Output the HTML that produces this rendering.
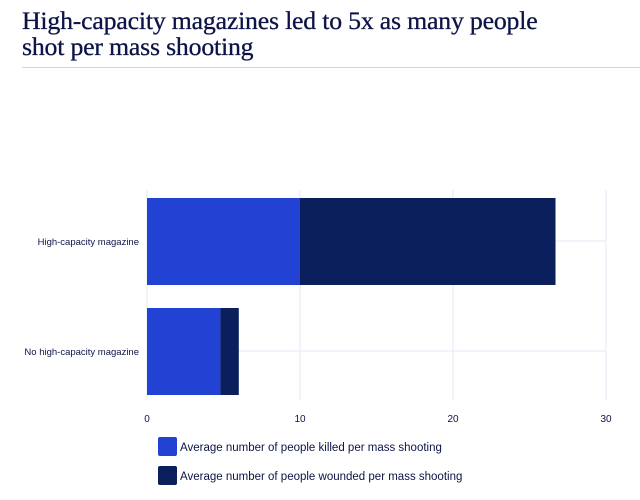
<!DOCTYPE html>
<html><head><meta charset="utf-8"><style>
body{margin:0;width:640px;height:500px;background:#fff;overflow:hidden;font-family:"Liberation Sans",sans-serif}
#title{position:absolute;left:22px;top:8px;margin:0;font-family:"Liberation Serif",serif;font-weight:normal;font-size:25.8px;line-height:26px;color:#0c1447;letter-spacing:-0.2px;-webkit-text-stroke:0.3px #0c1447}
#rule{position:absolute;left:22px;top:67px;width:618px;height:1px;background:#c9d6ee}
</style></head><body>
<h1 id="title">High-capacity magazines led to 5x as many people<br>shot per mass shooting</h1>
<div id="rule"></div>
<svg id="chart" width="640" height="500" style="position:absolute;left:0;top:0"></svg>
<script>
const categories=["High-capacity magazine","No high-capacity magazine"];
const killed=[10,4.8];
const wounded=[16.7,1.2];
const ticks=[0,10,20,30];
const seriesNames=["Average number of people killed per mass shooting","Average number of people wounded per mass shooting"];
const colors=["#2142d3","#0b1f5c"];
const svg=document.getElementById('chart');
const NS="http://www.w3.org/2000/svg";
const x=v=>147+v*15.3;
const yc=i=>241+i*110;
function mk(t,a){const e=document.createElementNS(NS,t);for(const k in a)e.setAttribute(k,a[k]);svg.appendChild(e);return e;}
ticks.forEach(t=>{
 const l=mk('line',{x1:x(t),x2:x(t),y1:190,y2:400,stroke:'#e6e9f7','stroke-width':1});
 
 
 const tx=mk('text',{x:x(t),y:422,'text-anchor':'middle','font-size':10,fill:'#0c1447','font-family':'Liberation Sans, sans-serif'});
 tx.textContent=t;
 
 
});
categories.forEach((c,i)=>{
 const g=mk('line',{x1:147,x2:x(30),y1:yc(i),y2:yc(i),stroke:'#e6e9f7','stroke-width':1});
 
 
 const r1=mk('rect',{x:x(0),y:yc(i)-43,width:x(killed[i])-x(0),height:87,fill:colors[0]});
 
 
 const r2=mk('rect',{x:x(killed[i]),y:yc(i)-43,width:x(killed[i]+wounded[i])-x(killed[i]),height:87,fill:colors[1]});
 
 
 const lb=mk('text',{x:139,y:yc(i)+4,'text-anchor':'end','font-size':9.5,fill:'#0c1447','font-family':'Liberation Sans, sans-serif'});
 lb.textContent=c;
 
 
});
seriesNames.forEach((n,i)=>{
 const sq=mk('rect',{x:158,y:437+i*29,width:19,height:19,rx:2,fill:colors[i]});
 
 
 const t=mk('text',{x:180,y:451+i*29,'font-size':11.5,fill:'#0c1447','font-family':'Liberation Sans, sans-serif'});
 t.textContent=n;
 
 
});
</script>
</body></html>
